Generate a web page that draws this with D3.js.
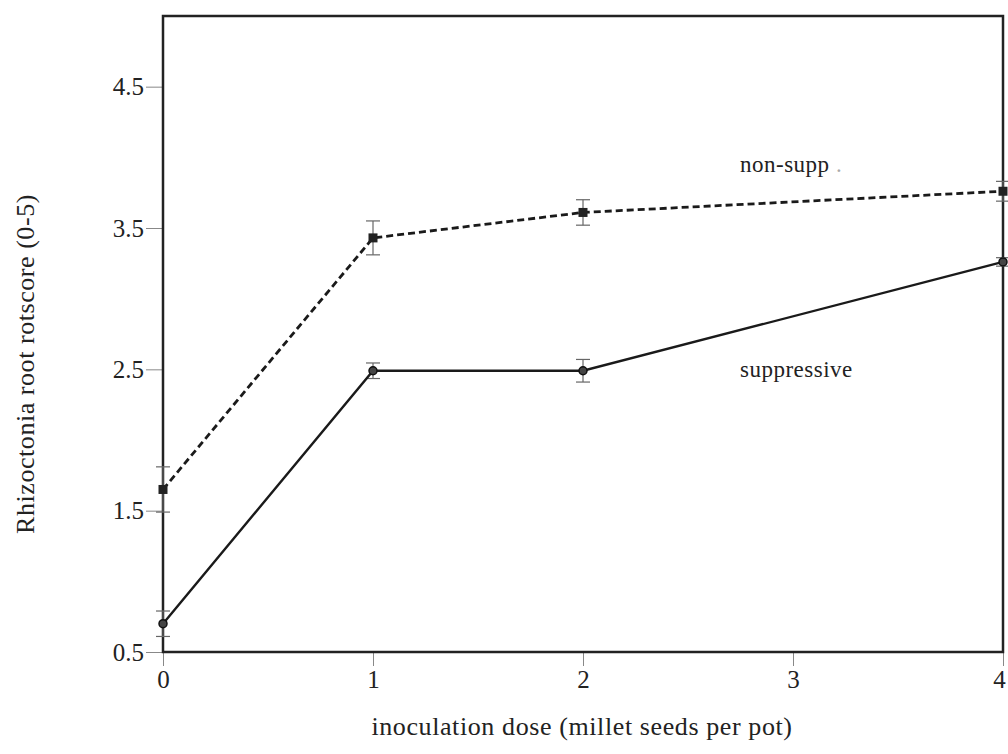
<!DOCTYPE html>
<html>
<head>
<meta charset="utf-8">
<script src="https://cdn.jsdelivr.net/npm/d3@7"></script>
<style>
  html, body { margin: 0; padding: 0; background: #fff; }
  svg { display: block; font-family: "Liberation Serif", "Times New Roman", serif; }
</style>
</head>
<body>
<svg id="chart" width="1008" height="754"></svg>
<script>
// Inoculation dose (millet seeds per pot)
const doses = [0, 1, 2, 4];
// Mean root rot score and standard error for each soil type
const nonSuppMean = [1.65, 3.43, 3.61, 3.76];
const nonSuppErr  = [0.16, 0.12, 0.09, 0.07];
const suppMean    = [0.70, 2.49, 2.49, 3.26];
const suppErr     = [0.09, 0.055, 0.08, 0.03];
const xTicks = [0, 1, 2, 3, 4];
const yTicks = [0.5, 1.5, 2.5, 3.5, 4.5];

const svg = d3.select("#chart");
const plotLeft = 163, plotRight = 1003, plotTop = 16, plotBottom = 652;

const x = d3.scaleLinear().domain([0, 4]).range([plotLeft, plotRight]);
const y = d3.scaleLinear().domain([0.5, 5]).range([plotBottom, plotTop]);

// Axes with outward ticks
const yAxis = svg.append("g").attr("transform", `translate(${plotLeft},0)`)
  .call(d3.axisLeft(y).tickValues(yTicks).tickFormat(d3.format(".1f")).tickSize(17).tickPadding(2));
const xAxis = svg.append("g").attr("transform", `translate(0,${plotBottom})`)
  .call(d3.axisBottom(x).tickValues(xTicks).tickFormat(d3.format("d")).tickSize(14).tickPadding(4));
[yAxis, xAxis].forEach(g => {
  g.select(".domain").remove();
  g.selectAll(".tick line").attr("stroke", "#888").attr("stroke-width", 1);
  g.selectAll(".tick text").attr("fill", "#222").style("font-size", "25px")
    .style("font-family", "'Liberation Serif', serif");
});
// Keep the last dose label inside the page edge
xAxis.selectAll(".tick text").filter(d => d === 4).attr("dx", -4);

// Plot frame
svg.append("rect").attr("x", plotLeft).attr("y", plotTop)
  .attr("width", plotRight - plotLeft).attr("height", plotBottom - plotTop)
  .attr("fill", "none").attr("stroke", "#222").attr("stroke-width", 2.5);

const line = d3.line().x(d => x(d[0])).y(d => y(d[1]));

function drawSeries(means, errs, dashed, marker) {
  const pts = doses.map((d, i) => [d, means[i], errs[i]]);
  // Error bars
  const eb = svg.append("g").attr("stroke", "#666").attr("stroke-width", 1.2);
  pts.forEach(p => {
    const cx = x(p[0]), y1 = y(p[1] + p[2]), y2 = y(p[1] - p[2]);
    eb.append("line").attr("x1", cx).attr("x2", cx).attr("y1", y1).attr("y2", y2);
    eb.append("line").attr("x1", cx - 7).attr("x2", cx + 7).attr("y1", y1).attr("y2", y1);
    eb.append("line").attr("x1", cx - 7).attr("x2", cx + 7).attr("y1", y2).attr("y2", y2);
  });
  svg.append("path").datum(pts).attr("d", line)
    .attr("fill", "none").attr("stroke", "#1a1a1a")
    .attr("stroke-width", dashed ? 2.8 : 2.4)
    .attr("stroke-dasharray", dashed ? "7,4" : null);
  const m = svg.append("g");
  pts.forEach(p => {
    if (marker === "square") {
      m.append("rect").attr("x", x(p[0]) - 4.5).attr("y", y(p[1]) - 4.5)
        .attr("width", 9).attr("height", 9).attr("fill", "#222");
    } else {
      m.append("circle").attr("cx", x(p[0])).attr("cy", y(p[1])).attr("r", 4)
        .attr("fill", "#444").attr("stroke", "#111").attr("stroke-width", 1.5);
    }
  });
}

drawSeries(nonSuppMean, nonSuppErr, true, "square");
drawSeries(suppMean, suppErr, false, "circle");

// Series labels
const ns = svg.append("text").attr("x", 740).attr("y", 172)
  .style("font-size", "23px").style("letter-spacing", "0.5px").attr("fill", "#222");
ns.append("tspan").text("non-supp");
ns.append("tspan").text(" .").attr("fill", "#aaa");
svg.append("text").attr("x", 740).attr("y", 377).text("suppressive")
  .style("font-size", "23px").style("letter-spacing", "0.5px").attr("fill", "#222");

// Axis titles
svg.append("text").attr("x", 582).attr("y", 735).attr("text-anchor", "middle")
  .text("inoculation dose (millet seeds per pot)")
  .style("font-size", "26px").style("letter-spacing", "0.6px").attr("fill", "#222");
svg.append("text").attr("transform", "translate(34,364) rotate(-90)").attr("text-anchor", "middle")
  .text("Rhizoctonia root rotscore (0-5)")
  .style("font-size", "26px").style("letter-spacing", "0.55px").attr("fill", "#222");
</script>
</body>
</html>
